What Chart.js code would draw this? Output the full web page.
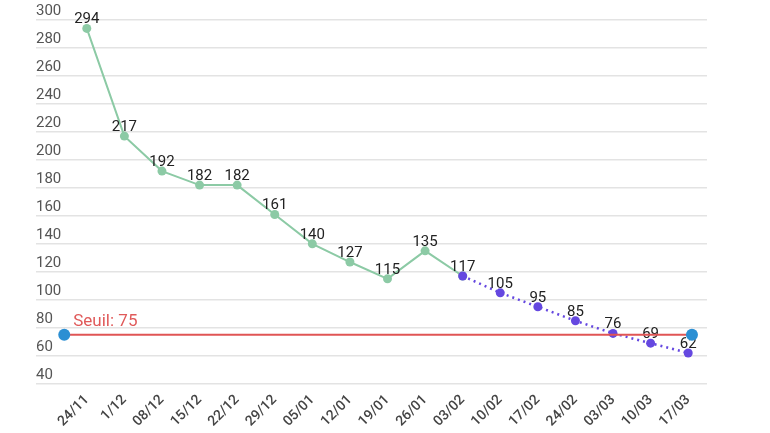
<!DOCTYPE html>
<html>
<head>
<meta charset="utf-8">
<script src="https://cdn.jsdelivr.net/npm/chart.js@4"></script>
<style>
  body { margin: 0; background: #fff; }
  #wrap { width: 770px; height: 433px; }
</style>
</head>
<body>
<div id="wrap"><canvas id="myChart"></canvas></div>
<script>
const labels = ["24/11", "1/12", "08/12", "15/12", "22/12", "29/12", "05/01", "12/01", "19/01", "26/01",
                "03/02", "10/02", "17/02", "24/02", "03/03", "10/03", "17/03"];
const actual = [294, 217, 192, 182, 182, 161, 140, 127, 115, 135, 117, null, null, null, null, null, null];
const forecast = [null, null, null, null, null, null, null, null, null, null, 117, 105, 95, 85, 76, 69, 62];
const seuil = 75;
const seuilRange = [-0.6, 16.1];

const green = "#8ccaa5";
const purple = "#6548e0";

// value labels above points + "Seuil" caption
const labelPlugin = {
    id: 'valueLabels',
    afterDatasetDraw(chart, args) {
        const ctx = chart.ctx;
        const ds = chart.data.datasets[args.index];
        const meta = args.meta;
        ctx.save();
        if (ds.isSeuil) {
            const p = meta.data[0];
            ctx.font = '17px Roboto';
            ctx.fillStyle = '#e05a5a';
            ctx.textAlign = 'left';
            ctx.textBaseline = 'alphabetic';
            ctx.fillText('Seuil: ' + seuil, p.x + 9, p.y - 9);
        } else {
            ctx.font = '15px Roboto';
            ctx.fillStyle = '#222';
            ctx.textAlign = 'center';
            ctx.textBaseline = 'alphabetic';
            meta.data.forEach((p, i) => {
                const v = ds.data[i];
                if (v === null || p.skip) return;
                if (ds.skipLabel && ds.skipLabel.includes(i)) return;
                ctx.fillText(String(v), p.x, p.y - 5);
            });
        }
        ctx.restore();
    }
};

new Chart("myChart", {
    type: "line",
    data: {
        labels: labels,
        datasets: [
            {
                isSeuil: true,
                data: seuilRange.map(x => ({ x: x, y: seuil })),
                xAxisID: 'xs',
                borderColor: '#e05555',
                borderWidth: 2,
                pointRadius: 6,
                pointBackgroundColor: '#2b8fd3',
                pointBorderWidth: 0,
                clip: false,
                order: 0,
            },
            {
                data: forecast,
                borderColor: purple,
                borderWidth: 2.5,
                borderDash: [2, 4],
                pointRadius: 4.5,
                pointBackgroundColor: purple,
                pointBorderWidth: 0,
                order: 1,
            },
            {
                data: actual,
                borderColor: green,
                borderWidth: 2,
                pointRadius: 4.5,
                pointBackgroundColor: green,
                pointBorderWidth: 0,
                skipLabel: [10],
                order: 2,
            },
        ],
    },
    options: {
        responsive: true,
        maintainAspectRatio: false,
        animation: false,
        layout: { padding: { left: 36, right: 63, top: 20, bottom: 3 } },
        plugins: {
            legend: { display: false },
            tooltip: { enabled: false },
        },
        scales: {
            x: {
                type: 'category',
                offset: true,
                grid: { display: false },
                border: { display: false },
                ticks: {
                    autoSkip: false,
                    minRotation: 45,
                    maxRotation: 45,
                    padding: 0,
                    color: '#444',
                    font: { family: 'Roboto', size: 14, weight: '500' },
                },
            },
            xs: {
                type: 'linear',
                display: false,
                min: -0.5,
                max: 16.5,
            },
            y: {
                min: 40,
                max: 300,
                border: { display: false },
                grid: { color: '#e3e3e3', lineWidth: 1.5, tickLength: 32 },
                ticks: {
                    stepSize: 20,
                    crossAlign: 'far',
                    padding: -26,
                    labelOffset: -9,
                    color: '#555',
                    font: { family: 'Roboto', size: 15 },
                },
                afterFit(scale) { scale.width = 32; },
            },
        },
    },
    plugins: [labelPlugin],
});
</script>
</body>
</html>
